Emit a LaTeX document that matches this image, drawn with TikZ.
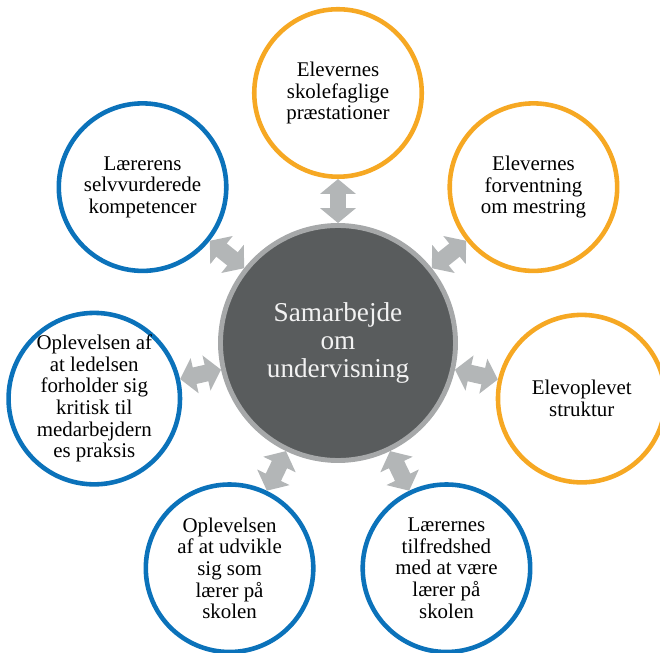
\documentclass[tikz,border=0pt]{standalone}
\usepackage{fontspec}
\setmainfont{Liberation Serif}
\usetikzlibrary{arrows.meta}

\definecolor{ringO}{HTML}{F6A823}
\definecolor{ringB}{HTML}{0B72BA}
\definecolor{hubFill}{HTML}{595C5D}
\definecolor{hubEdge}{HTML}{A6A8A9}
\definecolor{linkGray}{HTML}{B3B6B7}

\begin{document}
\begin{tikzpicture}[
    outer/.style={circle, fill=white, line width=2.6pt, minimum size=3.35cm,
        inner sep=0pt, align=center, text=black,
        font=\fontsize{11.9}{12.3}\selectfont},
    orng/.style={outer, draw=ringO},
    blu/.style={outer, draw=ringB},
    link/.style={draw=linkGray, line width=9.6pt,
        {Triangle[length=8.5pt,width=20pt]}-{Triangle[length=8.5pt,width=20pt]}},
]
\useasboundingbox (-6.76,-6.2) rectangle (6.44,6.86);

% Hub
\node[circle, fill=hubFill, draw=hubEdge, line width=2.8pt, minimum size=4.7cm,
    align=center, text=white!95!black, font=\fontsize{15.5}{16.1}\selectfont]
    (hub) at (0,0) {Samarbejde\\om\\undervisning};

% Pupil side (orange)
\node[orng] (skole) at (90:5) {Elevernes\\skolefaglige\\præstationer};
\node[orng] (forvent) at (38.57:5) {Elevernes\\forventning\\om mestring};
\node[orng] (struktur) at (-12.86:5) {Elevoplevet\\struktur};

% Teacher side (blue)
\node[blu] (tilfreds) at (-64.29:5) {Lærernes\\tilfredshed\\med at være\\lærer på\\skolen};
\node[blu] (udvikle) at (-115.71:5) {Oplevelsen\\af at udvikle\\sig som\\lærer på\\skolen};
\node[blu] (ledelse) at (-167.14:5) {Oplevelsen af\\at ledelsen\\forholder sig\\kritisk til\\medarbejdern\\es praksis};
\node[blu] (kompet) at (141.43:5) {Lærerens\\selvvurderede\\kompetencer};

% Links
\draw[link] (hub) -- (skole);
\draw[link] (hub) -- (forvent);
\draw[link] (hub) -- (struktur);
\draw[link] (hub) -- (tilfreds);
\draw[link] (hub) -- (udvikle);
\draw[link] (hub) -- (ledelse);
\draw[link] (hub) -- (kompet);

\end{tikzpicture}
\end{document}
